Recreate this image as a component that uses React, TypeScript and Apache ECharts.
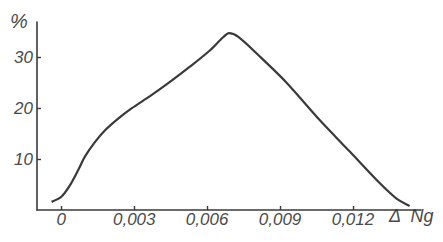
import React, { useEffect, useRef } from "react";
import * as echarts from "echarts";

const xValues = [-0.0004, 0, 0.00036, 0.0007, 0.00097, 0.00139, 0.0018, 0.00234, 0.00289, 0.00365, 0.00447, 0.00529, 0.00611, 0.00666, 0.0069, 0.00727, 0.00817, 0.00926, 0.01063, 0.01187, 0.0131, 0.01378, 0.01433];
const yValues = [1.6, 2.6, 4.9, 7.9, 10.5, 13.4, 15.7, 18.0, 20.0, 22.4, 25.2, 28.2, 31.4, 34.0, 34.8, 34.1, 30.2, 25.1, 17.7, 11.5, 5.3, 2.3, 0.8];
const xTicks = [0, 0.003, 0.006, 0.009, 0.012];
const yTicks = [10, 20, 30];
const yUnit = "%";
const xName = "Δ  Ng";

const FONT = "'Liberation Sans', Arial, sans-serif";
const TEXT = "#4a4a4a";
const LINE = "#3a3a3a";

export default function App() {
  const ref = useRef<HTMLDivElement>(null);
  useEffect(() => {
    if (!ref.current) return;
    const chart = echarts.init(ref.current, null, { renderer: "svg" });
    const fmtX = (v: number) => (Math.abs(v) < 1e-9 ? "0" : v.toFixed(3).replace(".", ","));
    chart.setOption({
      animation: false,
      backgroundColor: "#ffffff",
      grid: { left: 37, right: 22, top: 22, bottom: 32 },
      xAxis: {
        type: "value",
        min: -0.001,
        max: 0.0148,
        splitLine: { show: false },
        axisLine: { show: true, onZero: false, lineStyle: { color: LINE, width: 1.6 } },
        axisTick: { show: true, inside: true, length: 4, customValues: xTicks, lineStyle: { color: LINE, width: 1.4 } },
        axisLabel: {
          customValues: xTicks,
          formatter: fmtX,
          margin: 1,
          color: TEXT,
          fontFamily: FONT,
          fontStyle: "italic",
          fontSize: 17,
        },
      },
      yAxis: {
        type: "value",
        min: 0,
        max: 37,
        splitLine: { show: false },
        axisLine: { show: true, onZero: false, lineStyle: { color: LINE, width: 1.6 } },
        axisTick: { show: true, inside: true, length: 4, customValues: yTicks, lineStyle: { color: LINE, width: 1.4 } },
        axisLabel: {
          customValues: yTicks,
          formatter: (v: number) => String(v),
          margin: 4,
          color: TEXT,
          fontFamily: FONT,
          fontStyle: "italic",
          fontSize: 17,
        },
      },
      graphic: [
        {
          type: "text",
          left: 10,
          top: 11,
          style: { text: yUnit, fill: TEXT, font: `italic 20px ${FONT}` },
        },
        {
          type: "text",
          left: 389,
          top: 207,
          style: { text: xName, fill: TEXT, font: `italic 18px ${FONT}` },
        },
      ],
      series: [
        {
          type: "line",
          data: xValues.map((x, i) => [x, yValues[i]]),
          smooth: 0.3,
          showSymbol: false,
          lineStyle: { color: LINE, width: 2.2 },
        },
      ],
    });
    return () => chart.dispose();
  }, []);
  return <div ref={ref} style={{ width: 443, height: 242, position: "absolute", left: 0, top: 0 }} />;
}
